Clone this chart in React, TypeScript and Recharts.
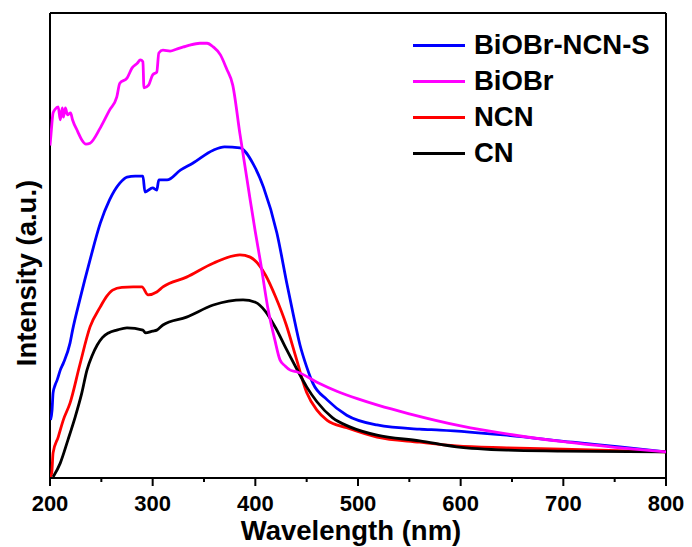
import React from 'react';
import { LineChart, Line, XAxis, YAxis, Legend, ReferenceLine } from 'recharts';

// Wavelength (nm) and intensity (a.u.)
const wlNCNS = [200.5, 202, 203, 205, 207, 210, 213, 219.5, 222, 229, 239, 249, 258, 268, 275, 283, 290.5, 292.5, 300, 304, 306, 314, 327, 339, 359, 370, 385, 398, 408, 421, 431, 437, 443.5, 450, 456, 470, 489, 518.5, 560, 580, 645, 709, 755, 800];
const intNCNS = [12.5, 14.6, 18.3, 20, 21.1, 23.2, 24.7, 29, 31.8, 38.3, 46.9, 54.8, 59.8, 63.4, 64.7, 64.9, 64.9, 61.5, 62.4, 61.9, 64.1, 64.1, 66.2, 67.7, 70.5, 71.2, 71.0, 67.5, 62.5, 52.7, 41.5, 35.1, 28.6, 23.9, 20.4, 16.8, 13.5, 11.4, 10.5, 10.3, 9.2, 7.7, 6.7, 5.6];

const wlBiOBr = [200, 201, 203, 205, 208, 210, 212, 213, 215, 217, 220, 222, 227, 231, 235, 239, 249, 258, 265, 268, 275, 280, 285, 288, 290.5, 291.5, 296, 300, 304, 306, 310, 317, 324, 330, 336, 346, 353, 359, 366, 372, 378, 385, 395, 400, 405, 412, 419, 424, 429, 434, 441, 460, 480, 500, 520, 550, 600, 650, 700, 750, 800];
const intBiOBr = [71.5, 74, 78.5, 79.3, 79.8, 77.0, 79.6, 77.6, 79.6, 78.1, 78.5, 77.0, 74.5, 72.7, 71.8, 72.0, 75.3, 79.1, 81.9, 84.9, 86.0, 88.2, 89.2, 89.9, 89.5, 83.9, 84.5, 86.7, 87.3, 91.4, 92.0, 91.8, 92.3, 92.7, 93.1, 93.5, 93.5, 92.7, 91.0, 88.0, 84.5, 74.0, 59.8, 52.9, 46.5, 36.8, 29.7, 25.4, 24.1, 23.2, 22.8, 20.6, 18.6, 17.0, 15.6, 13.8, 11.2, 9.3, 7.8, 6.6, 5.6];

const wlNCN = [200, 201.7, 203, 208, 213, 219.5, 229, 239, 249, 255, 261, 270, 281, 289.5, 295.5, 304, 310, 333, 359, 385, 395, 410, 420, 430, 440, 450, 460, 470, 489, 518.5, 560, 596, 645, 736, 800];
const intNCN = [0, 1.1, 5.4, 8.8, 12.5, 16.1, 24.3, 32.5, 36.8, 39.0, 40.4, 41.0, 41.1, 41.1, 39.4, 40.0, 41.1, 43.2, 46.2, 48.0, 47.5, 43.6, 38.8, 33.0, 25.6, 18.4, 14.6, 12.4, 10.8, 8.8, 7.7, 6.9, 6.5, 6.0, 5.6];

const wlCN = [203, 210, 217.5, 224.5, 231, 236, 241, 246, 251, 257, 265, 275, 290.5, 293, 300, 304, 310, 333, 359, 388, 400, 410, 420, 430, 440, 450, 460, 475, 492, 518.5, 560, 596, 645, 697, 800];
const intCN = [0.2, 3.2, 8.2, 13.1, 18.3, 23.2, 26.3, 28.6, 30.2, 31.2, 31.8, 32.3, 31.8, 31.2, 31.6, 31.8, 32.9, 34.6, 37.2, 38.3, 37.8, 35.8, 32.2, 27.8, 23.6, 19.6, 16.4, 13.0, 11.0, 9.2, 8.0, 6.7, 6.0, 5.8, 5.6];

const xTicks = [200, 250, 300, 350, 400, 450, 500, 550, 600, 650, 700, 750, 800];
const xMajor = [200, 300, 400, 500, 600, 700, 800];

const zip = (xs: number[], ys: number[]) => xs.map((x, i) => ({ x, y: ys[i] }));

const FONT = "'Liberation Sans', Arial, Helvetica, sans-serif";

const legendItems = [
  { name: 'BiOBr-NCN-S', color: '#0000FF' },
  { name: 'BiOBr', color: '#FF00FF' },
  { name: 'NCN', color: '#FF0000' },
  { name: 'CN', color: '#000000' },
];

// drawing order
const series = [
  { name: 'BiOBr-NCN-S', color: '#0000FF', data: zip(wlNCNS, intNCNS) },
  { name: 'NCN', color: '#FF0000', data: zip(wlNCN, intNCN) },
  { name: 'CN', color: '#000000', data: zip(wlCN, intCN) },
  { name: 'BiOBr', color: '#FF00FF', data: zip(wlBiOBr, intBiOBr) },
];

const XTick = (props: any) => {
  const { x, y, payload } = props;
  const major = xMajor.includes(payload.value);
  return (
    <g>
      <line x1={x} x2={x} y1={y} y2={y + (major ? 8 : 4)} stroke="#000" strokeWidth={2} />
      {major && (
        <text x={x} y={y + 33} textAnchor="middle" fontFamily={FONT} fontWeight="bold" fontSize={22} fill="#000">
          {payload.value}
        </text>
      )}
    </g>
  );
};

const Titles = () => (
  <g>
    <text x={351} y={540} textAnchor="middle" fontFamily={FONT} fontWeight="bold" fontSize={27.5} fill="#000">
      Wavelength (nm)
    </text>
    <text
      x={36}
      y={273}
      transform="rotate(-90 36 273)"
      textAnchor="middle"
      fontFamily={FONT}
      fontWeight="bold"
      fontSize={27.5}
      fill="#000"
    >
      Intensity (a.u.)
    </text>
  </g>
);

const LegendContent = () => (
  <div style={{ fontFamily: FONT }}>
    {legendItems.map((it) => (
      <div key={it.name} style={{ display: 'flex', alignItems: 'center', height: 36 }}>
        <div style={{ width: 52, height: 3, background: it.color, marginRight: 9 }} />
        <span style={{ fontSize: 27.5, fontWeight: 'bold', color: '#000', lineHeight: '36px' }}>{it.name}</span>
      </div>
    ))}
  </div>
);

export default function App() {
  return (
    <div style={{ position: 'absolute', left: 0, top: 0, width: 692, height: 547, background: '#fff' }}>
      <LineChart width={692} height={547} margin={{ top: 13, right: 26, bottom: 9, left: 50 }}>
        <XAxis
          xAxisId="b"
          type="number"
          dataKey="x"
          domain={[200, 800]}
          ticks={xTicks}
          interval={0}
          height={60}
          tickSize={0}
          tickMargin={0}
          tickLine={false}
          tick={<XTick />}
          axisLine={{ stroke: '#000', strokeWidth: 2 }}
          allowDataOverflow
          label={() => <Titles />}
        />
        <YAxis yAxisId="l" type="number" domain={[0, 100]} hide allowDataOverflow />
        <ReferenceLine xAxisId="b" yAxisId="l" x={200} stroke="#000" strokeWidth={2} />
        <ReferenceLine xAxisId="b" yAxisId="l" x={800} stroke="#000" strokeWidth={2} />
        <ReferenceLine xAxisId="b" yAxisId="l" y={100} stroke="#000" strokeWidth={2} />
        {series.map((s) => (
          <Line
            key={s.name}
            xAxisId="b"
            yAxisId="l"
            data={s.data}
            dataKey="y"
            name={s.name}
            type="monotone"
            stroke={s.color}
            strokeWidth={2.8}
            dot={false}
            activeDot={false}
            isAnimationActive={false}
          />
        ))}
        <Legend
          layout="vertical"
          align="center"
          verticalAlign="middle"
          content={<LegendContent />}
          wrapperStyle={{ left: 413, top: 27, width: 'auto', height: 'auto' }}
        />
      </LineChart>
    </div>
  );
}
